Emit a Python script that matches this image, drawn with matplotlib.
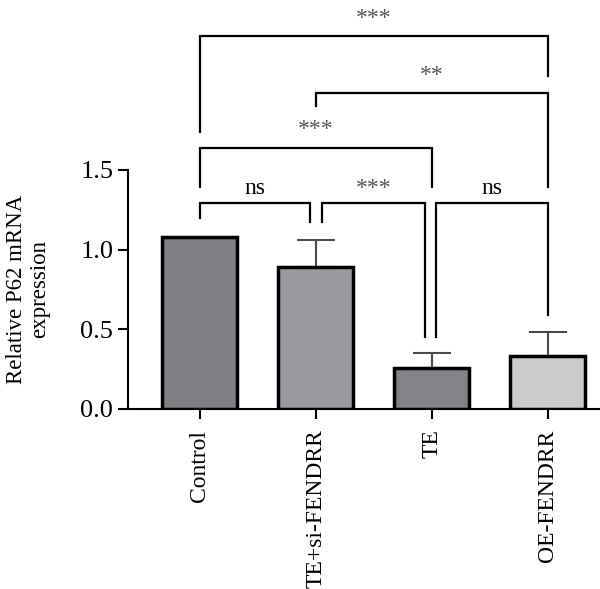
import numpy as np
import matplotlib
matplotlib.use("Agg")
import matplotlib.pyplot as plt

plt.rcParams['font.family'] = ['Liberation Serif', 'DejaVu Serif']

# --- data ---
groups = ["Control", "TE+si-FENDRR", "TE", "OE-FENDRR"]
means = [1.08, 0.89, 0.257, 0.33]
errs = [0.0, 0.17, 0.095, 0.15]
colors = ["#7f7f84", "#9a9ba0", "#838388", "#cbcbcd"]

# (left group, right group, bar height, left leg end, right leg end, label)
comparisons = [
    (0, 1, 1.29, 1.20, 1.17, "ns"),
    (1, 2, 1.29, 1.17, 0.45, "***"),
    (2, 3, 1.29, 0.45, 0.59, "ns"),
    (0, 2, 1.64, 1.39, 1.39, "***"),
    (1, 3, 1.98, 1.90, 1.39, "**"),
    (0, 3, 2.34, 1.74, 2.09, "***"),
]
# small horizontal nudges so neighbouring brackets don't touch
nudge = {(0, 1): (0, -0.05), (1, 2): (0.05, -0.06), (2, 3): (0.035, 0)}

fig = plt.figure(figsize=(6, 5.89), dpi=100)
ax = fig.add_axes([0.213, 0.306, 0.787, 0.694])

x = np.arange(len(groups))
ax.bar(x, means, width=0.65, color=colors, edgecolor="black", linewidth=2.5, zorder=2)
for xi, m, e in zip(x, means, errs):
    if e > 0:
        ax.errorbar(xi, m, yerr=[[0], [e]], fmt="none", ecolor="#4a4a4a",
                    elinewidth=1.5, capsize=13.5, capthick=1.5, zorder=1)

for a, b, h, la, lb, lab in comparisons:
    dxa, dxb = nudge.get((a, b), (0, 0))
    xa, xb = a + dxa, b + dxb
    ax.plot([xa, xa, xb, xb], [la, h, h, lb], color="black", lw=1.6,
            clip_on=False, solid_joinstyle="miter")
    if lab == "ns":
        ax.text((xa + xb) / 2, h + 0.06, lab, ha="center", va="baseline",
                fontsize=17)
    else:
        off = 0.095 if h < 1.4 else 0.113
        ax.text((xa + xb) / 2, h + off, lab, ha="center", va="center",
                fontsize=17, color="#555555")

ax.set_xlim(-0.62, 3.45)
ax.set_ylim(0, 2.567)
ax.set_yticks([0, 0.5, 1.0, 1.5])
ax.set_yticklabels(["0.0", "0.5", "1.0", "1.5"], fontsize=19)
ax.set_xticks(x)
ax.set_xticklabels(groups, rotation=90, fontsize=17)
ax.set_ylabel("Relative P62 mRNA\nexpression", fontsize=16.5, linespacing=1.1)
ax.yaxis.set_label_coords(-0.165, 0.75 / 2.567)

for s in ["top", "right"]:
    ax.spines[s].set_visible(False)
ax.spines["left"].set_bounds(0, 1.5)
ax.spines["left"].set_linewidth(1.5)
ax.spines["bottom"].set_linewidth(1.5)
ax.tick_params(axis="both", width=1.5, length=7)
ax.tick_params(axis="x", pad=8)

fig.savefig("out.png", dpi=100)
